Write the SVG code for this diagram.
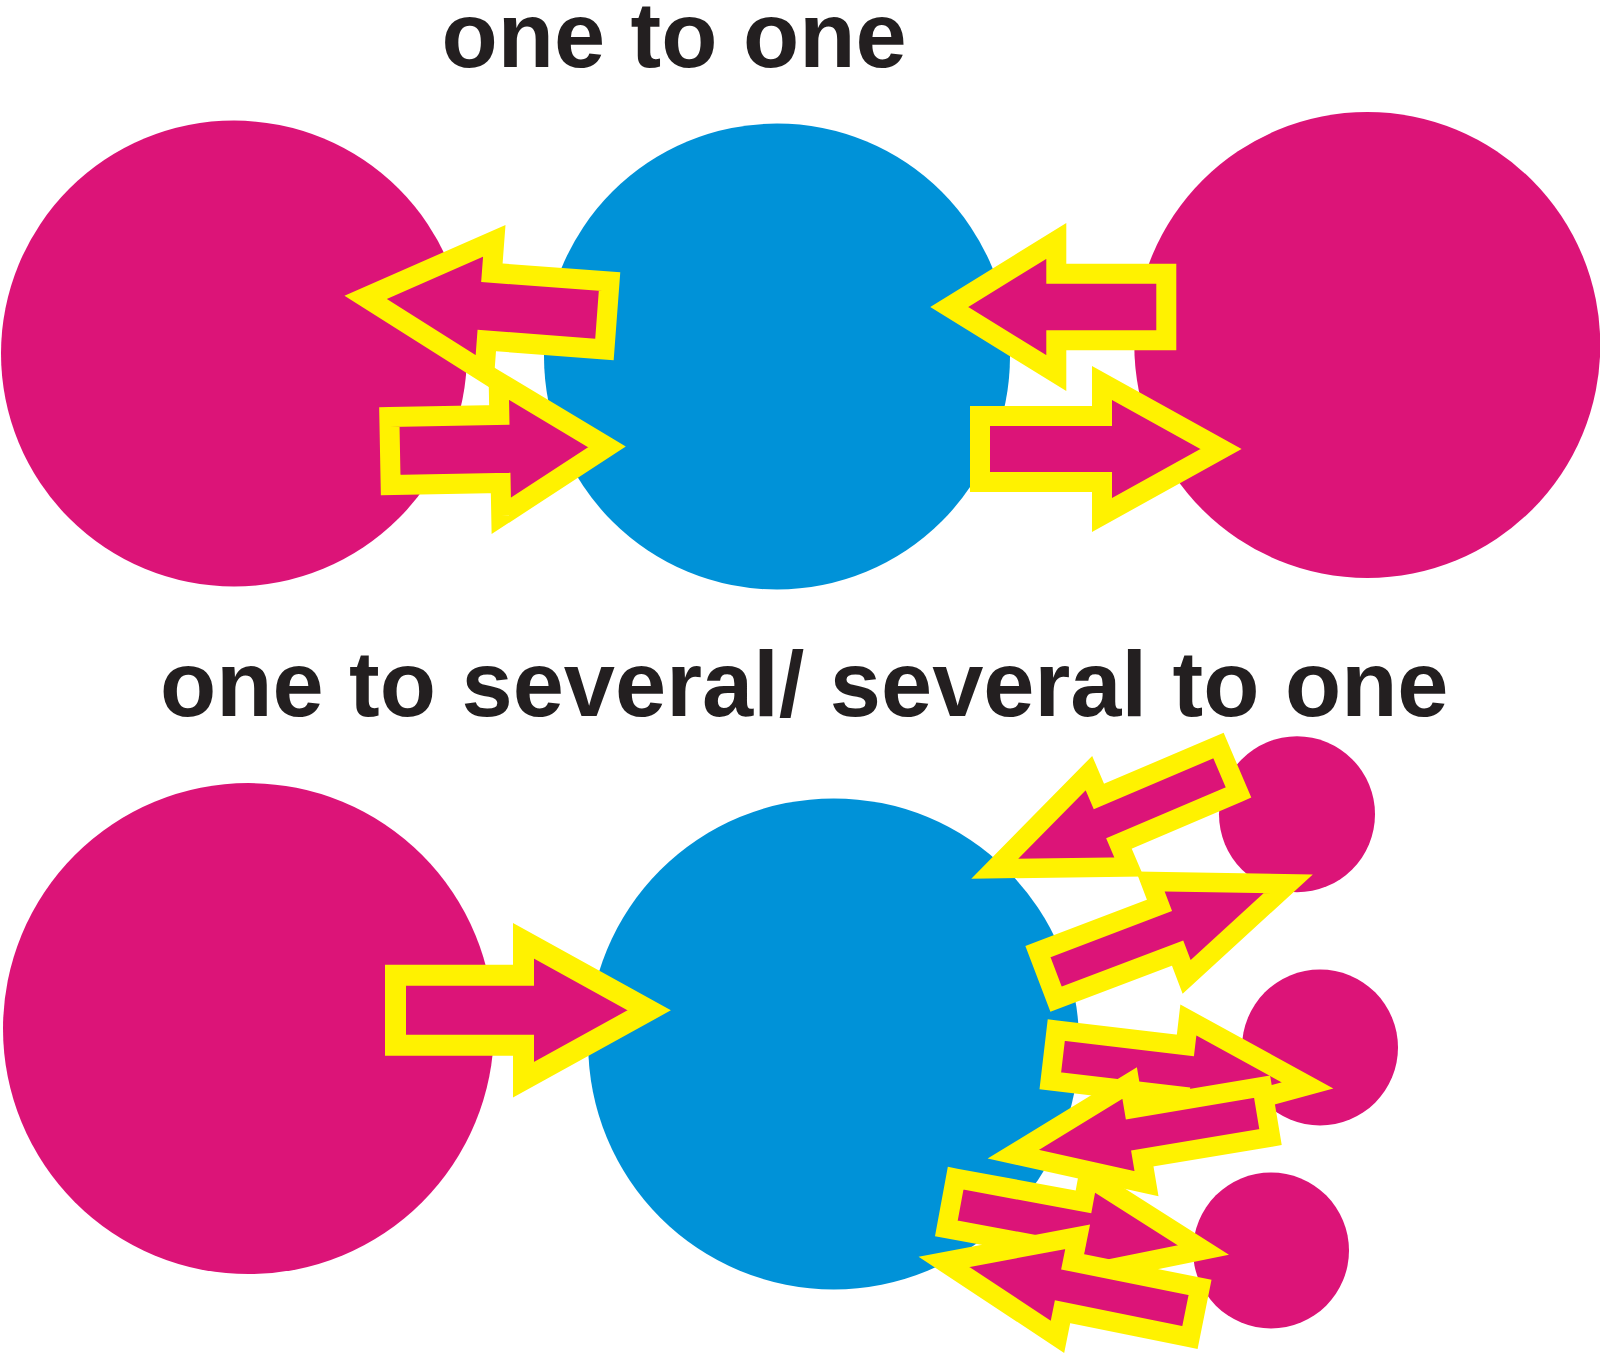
<svg xmlns="http://www.w3.org/2000/svg" width="1600" height="1357" viewBox="0 0 1600 1357">
<style>
.mag{fill:#dc1478}
.blue{fill:#0092d8}
.arrow{fill:#dc1478;stroke:#fff200;stroke-linejoin:miter;stroke-miterlimit:10}
.big{stroke-width:20}
.bl{stroke-width:21}
.small{stroke-width:19.5}
.title{font-family:"Liberation Sans",Arial,sans-serif;font-weight:bold;font-size:92px;fill:#231f20}
</style>
<rect width="1600" height="1357" fill="#ffffff"/>
<g id="titles">
<text id="t1" class="title" x="441.5" y="67">one to one</text>
<text id="t2" class="title" x="160" y="716">one to several/ several to one</text>
</g>
<g id="nodes">
<circle id="top-left" class="mag" cx="234" cy="353.6" r="233"/>
<circle id="top-center" class="blue" cx="777" cy="356.6" r="233"/>
<circle id="top-right" class="mag" cx="1367.3" cy="345" r="233"/>
<circle id="bottom-left" class="mag" cx="248.5" cy="1028.6" r="245.5"/>
<circle id="bottom-center" class="blue" cx="833.7" cy="1043.9" r="245.5"/>
<circle id="small-1" class="mag" cx="1297" cy="814.3" r="78"/>
<circle id="small-2" class="mag" cx="1320" cy="1047.5" r="78"/>
<circle id="small-3" class="mag" cx="1271" cy="1250.5" r="78"/>
</g>
<g id="connectors">
<polygon class="arrow big" transform="translate(607,315.5) rotate(184.3)" points="0,-34 118,-34 118,-66 242,0 118,66 118,34 0,34"/>
<polygon class="arrow big" transform="translate(390,451) rotate(-1.1)" points="0,-34 110,-34 110,-67 217,0 110,67 110,34 0,34"/>
<polygon class="arrow big" transform="translate(1166.3,307) rotate(180)" points="0,-33.3 110,-33.3 110,-66 217,0 110,66 110,33.3 0,33.3"/>
<polygon class="arrow big" transform="translate(980,449) rotate(0)" points="0,-33 122,-33 122,-66 241,0 122,66 122,33 0,33"/>
<polygon class="arrow bl" transform="translate(395.5,1010.3) rotate(0)" points="0,-35 128,-35 128,-69.5 253.7,0 128,69.5 128,35 0,35"/>
<polygon class="arrow small" transform="translate(1228.5,769) rotate(156.9)" points="0,-25.5 130,-25.5 130,-51 254,0 130,51 130,25.5 0,25.5"/>
<polygon class="arrow small" transform="translate(1047,975.4) rotate(-20.8)" points="0,-25.5 130,-25.5 130,-51 258,0 130,51 130,25.5 0,25.5"/>
<polygon class="arrow small" transform="translate(1053.3,1055.5) rotate(6.7)" points="0,-25.5 130,-25.5 130,-51 256,0 130,51 130,25.5 0,25.5"/>
<polygon class="arrow small" transform="translate(1266.3,1111.9) rotate(170.5)" points="0,-25.5 130,-25.5 130,-51 256.5,0 130,51 130,25.5 0,25.5"/>
<polygon class="arrow small" transform="translate(951,1203.3) rotate(10.5)" points="0,-25.5 130,-25.5 130,-51 256.6,0 130,51 130,25.5 0,25.5"/>
<polygon class="arrow small" transform="translate(1195,1312.5) rotate(191.4)" points="0,-25.5 130,-25.5 130,-51 256,0 130,51 130,25.5 0,25.5"/>
</g>
</svg>
